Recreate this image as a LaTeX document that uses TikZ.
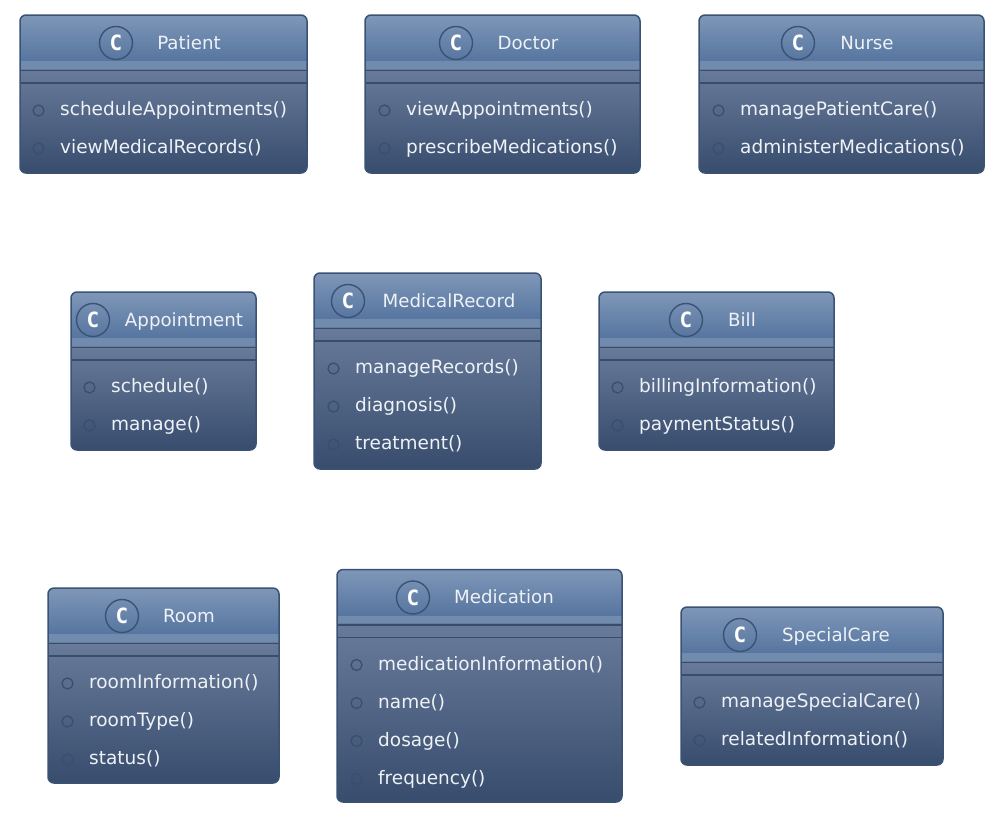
\documentclass[tikz,border=0pt]{standalone}
\usepackage{fontspec}
\setmainfont{DejaVu Sans}
\newfontfamily\badgefont{DejaVu Sans Mono}
\definecolor{edgeC}{HTML}{3A5274}
\definecolor{ruleC}{HTML}{384C6C}
\definecolor{headT}{HTML}{7F97B8}
\definecolor{headB}{HTML}{56759F}
\definecolor{bandC}{HTML}{718BAF}
\definecolor{bodyT}{HTML}{687B9B}
\definecolor{bodyB}{HTML}{384C6D}
\definecolor{dotC}{HTML}{3A4F70}
\definecolor{inkC}{HTML}{EEF2F6}
\tikzset{
  boxedge/.style={draw=edgeC,line width=1.5pt,rounded corners=6pt},
  titletext/.style={anchor=base,inner sep=0pt,text=inkC,font=\fontsize{18.2}{20}\selectfont},
  methodtext/.style={anchor=base west,inner sep=0pt,text=inkC,font=\fontsize{18.5}{20}\selectfont},
  badge/.style={circle,draw=edgeC,line width=1.4pt,minimum size=33pt,inner sep=0pt,text=white,font=\badgefont\fontsize{21}{22}\selectfont\bfseries},
  dotmark/.style={circle,draw=dotC,line width=1.3pt,minimum size=11pt,inner sep=0pt},
  divider/.style={draw=ruleC,line width=1.1pt}
}
% x1,y1,x2,y2,badge x,title x,method x,title,methods
\newcommand{\umlbox}[9]{%
  \begin{scope}
    \clip[rounded corners=6pt] (#1,#2) rectangle (#3,#4);
    \shade[top color=headT,bottom color=headB] (#1,#2) rectangle (#3,#2+46);
    \fill[bandC] (#1,#2+46) rectangle (#3,#2+54);
    \shade[top color=bodyT,bottom color=bodyB] (#1,#2+54) rectangle (#3,#4);
    \draw[divider] (#1,#2+55.5) -- (#3,#2+55.5);
    \draw[divider] (#1,#2+68) -- (#3,#2+68);
  \end{scope}
  \draw[boxedge] (#1,#2) rectangle (#3,#4);
  \node[badge] (#8-badge) at (#5,#2+28) {C};
  \node[titletext] (#8-title) at (#6,#2+34) {#8};
  \foreach \m [count=\i] in {#9}{
    \node[dotmark] (#8-dot-\i) at (#7-21.5,#2+95.5+38*\i-38) {};
    \node[methodtext] (#8-m-\i) at (#7,#2+100.6+38*\i-38) {\m()};
  }
}
\begin{document}
\begin{tikzpicture}[x=1pt,y=-1pt]
\useasboundingbox (0,0) rectangle (1000,812);
\umlbox{20}{15}{307}{173}{116}{189}{60}{Patient}{scheduleAppointments,viewMedicalRecords}
\umlbox{365}{15}{640}{173}{456}{528}{406}{Doctor}{viewAppointments,prescribeMedications}
\umlbox{699}{15}{984}{173}{798}{867}{740}{Nurse}{managePatientCare,administerMedications}
\umlbox{71}{292}{256}{450}{93}{184}{111}{Appointment}{schedule,manage}
\umlbox{314}{273}{541}{469}{348}{449}{355}{MedicalRecord}{manageRecords,diagnosis,treatment}
\umlbox{599}{292}{834}{450}{686}{742}{639}{Bill}{billingInformation,paymentStatus}
\umlbox{48}{588}{279}{783}{122}{189}{89}{Room}{roomInformation,roomType,status}
\umlbox{337}{569.5}{622}{802}{413}{504}{378}{Medication}{medicationInformation,name,dosage,frequency}
\umlbox{681}{607}{943}{765}{740}{836}{721}{SpecialCare}{manageSpecialCare,relatedInformation}
\end{tikzpicture}
\end{document}
